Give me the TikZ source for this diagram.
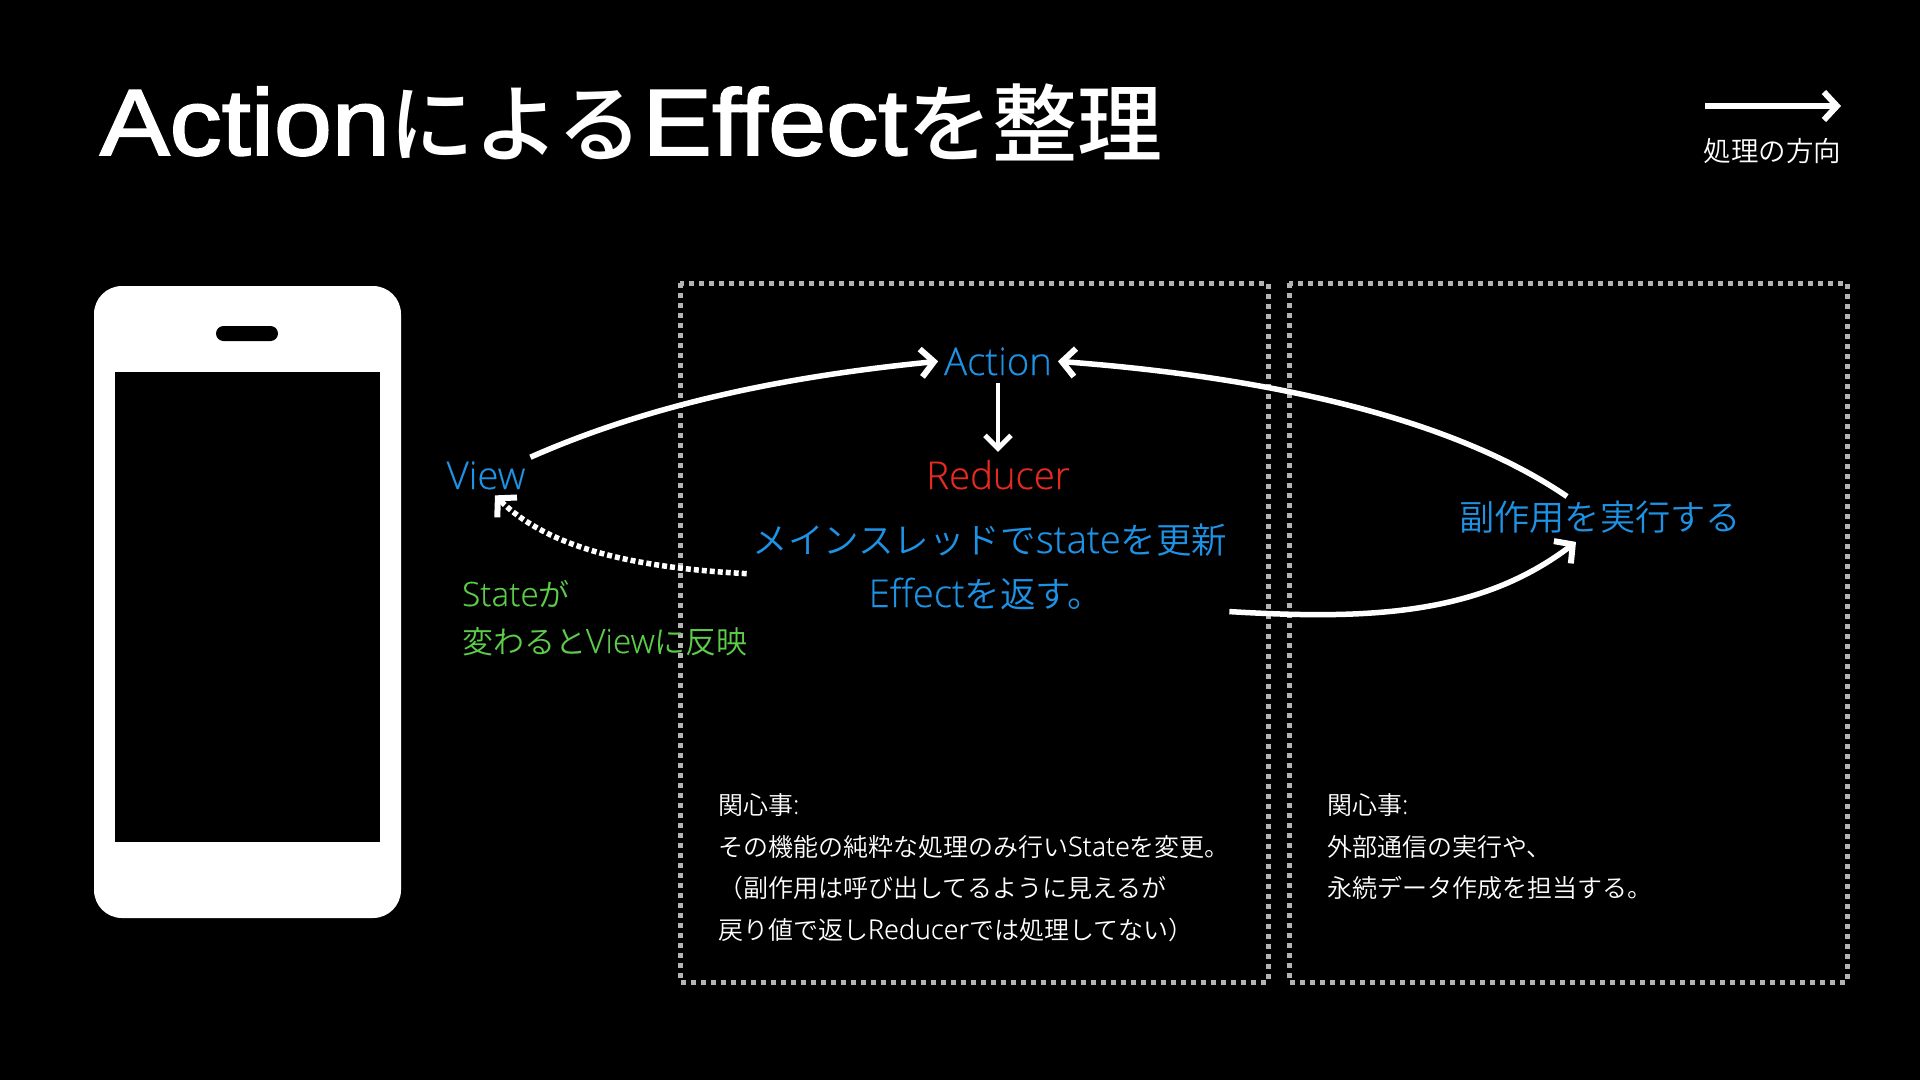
\documentclass[tikz,border=0pt]{standalone}
\usepackage{fontspec}
\usetikzlibrary{arrows.meta,calc}
\setmainfont{Liberation Sans}
\newfontfamily\latfont[Scale=1.08,FakeBold=0.3]{Open Sans Light}
\newfontfamily\jpfont{Noto Sans CJK JP DemiLight}
\newfontfamily\jptitle{Noto Sans CJK JP Medium}
\newfontfamily\lattitle[FakeBold=2,FakeStretch=1.11]{Liberation Sans}
\newcommand\fla[1]{{\latfont #1}}
\newcommand\fja[1]{{\jpfont #1}}
\newcommand\tla[1]{{\fontsize{94}{110}\selectfont\lattitle #1}}
\newcommand\tja[1]{{\fontsize{85}{110}\selectfont\jptitle #1}}
\definecolor{cblue}{HTML}{1E93E6}
\definecolor{cred}{HTML}{E62A20}
\definecolor{cgreen}{HTML}{5DCC4A}
\definecolor{cdot}{HTML}{B4B4B4}
\tikzset{
  txt/.style={inner sep=0pt,outer sep=0pt,anchor=base,text=#1},
  big/.style={font=\fontsize{35.5}{46}\selectfont},
  runsize/.style={font=\fontsize{35.2}{46}\selectfont},
  mid/.style={font=\fontsize{31}{38}\selectfont},
  small/.style={font=\fontsize{25}{28}\selectfont},
  dotbox/.style={draw=cdot,line width=5pt,dash pattern=on 5pt off 5pt},
  arw/.style={draw=white,line width=5.5pt,-{Straight Barb[length=13pt,width=28pt,line width=6pt]}},
  arwthin/.style={draw=white,line width=4.5pt,-{Straight Barb[length=13pt,width=26pt,line width=5pt]}},
  arwdot/.style={draw=white,line width=5.5pt,dash pattern=on 5pt off 3pt,-{Straight Barb[length=13pt,width=28pt,line width=6pt]}}
}
\begin{document}
\begin{tikzpicture}[x=1pt,y=-1pt]
\useasboundingbox (0,0) rectangle (1920,1080);
\fill[black] (0,0) rectangle (1920,1080);
% phone
\fill[white,rounded corners=28pt] (94,286) rectangle (401,918);
\fill[black] (115,372) rectangle (380,842);
\fill[black,rounded corners=7.5pt] (216,326) rectangle (278,341);
% dotted panels
\draw[dotbox] (680,283) rectangle (1268,982);
\draw[dotbox] (1289,283) rectangle (1847,982);
% title
\node[txt=white,anchor=base west] (title) at (100,155) {\tla{Action}\tja{による}\tla{Effect}\tja{を整理}};
% legend
\node[txt=white,anchor=base east,font=\fontsize{27.5}{32}\selectfont] (legend) at (1841,161) {\fja{処理の方向}};
\coordinate (legstart) at (1705,106);
\coordinate (legendtip) at (1841,106);
\draw[arw,line width=6pt] (legstart) -- (legendtip);
% main nodes
\node[txt=cblue,big] (action) at (998,375) {\fla{Action}};
\node[txt=cred,big] (reducer) at (998,489) {\fla{Reducer}};
\node[txt=cblue,big] (view) at (486,489) {\fla{View}};
\node[txt=cblue,big] (main) at (990,553) {\fja{メインスレッドで}\fla{state}\fja{を更新}};
\node[txt=cblue,big] (effect) at (986,607) {\fla{Effect}\fja{を返す。}};
\node[txt=cblue,runsize] (run) at (1600,530) {\fja{副作用を実行する}};
\node[txt=cgreen,anchor=base west,mid] (g1) at (462,606) {\fla{State}\fja{が}};
\node[txt=cgreen,anchor=base west,mid] (g2) at (462,653) {\fja{変わると}\fla{View}\fja{に反映}};
% notes
\node[txt=white,anchor=base west,small] (n1) at (718,814) {\fja{関心事}\fla{:}};
\node[txt=white,anchor=base west,small] (n2) at (718,856) {\fja{その機能の純粋な処理のみ行い}\fla{State}\fja{を変更。}};
\node[txt=white,anchor=base west,small] (n3) at (718,897) {\fja{（副作用は呼び出してるように見えるが}};
\node[txt=white,anchor=base west,small] (n4) at (718,939) {\fja{戻り値で返し}\fla{Reducer}\fja{では処理してない）}};
\node[txt=white,anchor=base west,small] (m1) at (1327,814) {\fja{関心事}\fla{:}};
\node[txt=white,anchor=base west,small] (m2) at (1327,856) {\fja{外部通信の実行や、}};
\node[txt=white,anchor=base west,small] (m3) at (1327,897) {\fja{永続データ作成を担当する。}};
% connectors
\draw[arw] ([shift={(5,-4)}]view.north east) .. controls (660,400) and (800,375) .. ([xshift=-6pt]action.west);
\draw[arwthin] ([yshift=-8pt]action.south) -- ([yshift=8pt]reducer.north);
\draw[arw] ([shift={(126,18)}]effect.east) .. controls (1370,620) and (1480,615) .. ([shift={(-24,9)}]run.south);
\draw[arw] ([shift={(-33,-4)}]run.north) .. controls (1440,410) and (1240,375) .. ([xshift=6pt]action.east);
\draw[arwdot] ([shift={(-6,34)}]main.west) .. controls (640,568) and (550,550) .. ([shift={(9,6)}]view.south);
\end{tikzpicture}
\end{document}
